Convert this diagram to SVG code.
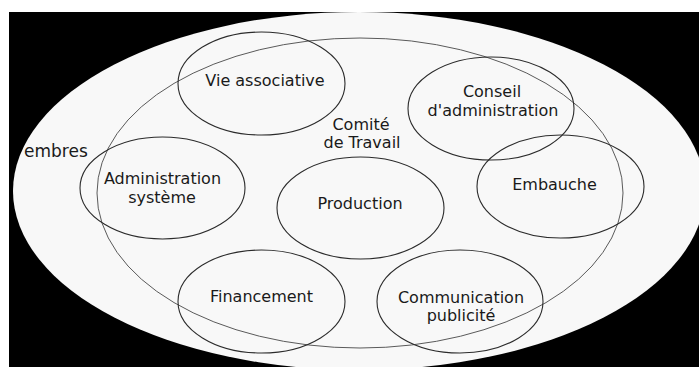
<svg xmlns="http://www.w3.org/2000/svg" width="699" height="367" viewBox="0 0 699 367">
  <style>
    .lbl { font-family: "DejaVu Sans", "Liberation Sans", sans-serif; font-size: 16px; fill: #1a1a1a; text-anchor: middle; }
    .set { fill: none; stroke: #2b2b2b; stroke-width: 1.1; }
    .inner { fill: none; stroke: #5a5a5a; stroke-width: 1; }
  </style>
  <defs>
    <clipPath id="frame"><rect x="9" y="12" width="690" height="355"/></clipPath>
  </defs>
  <rect x="0" y="0" width="699" height="367" fill="#ffffff"/>
  <rect x="9" y="12" width="690" height="355" fill="#000000"/>
  <g id="membres" clip-path="url(#frame)">
    <ellipse cx="359" cy="191" rx="346" ry="179" fill="#f8f8f8"/>
    <text x="24" y="157" font-family="DejaVu Sans, Liberation Sans, sans-serif" font-size="17" fill="#1a1a1a">embres</text>
  </g>
  <g id="comite">
    <ellipse class="inner" cx="360" cy="193" rx="263" ry="155"/>
    <text class="lbl" x="361" y="130">Comité</text>
    <text class="lbl" x="362" y="148">de Travail</text>
  </g>
  <g id="vie-associative">
    <ellipse class="set" cx="261.5" cy="83.5" rx="83.5" ry="51.5"/>
    <text class="lbl" x="265" y="86">Vie associative</text>
  </g>
  <g id="conseil">
    <ellipse class="set" cx="491" cy="108.5" rx="83" ry="51.5"/>
    <text class="lbl" x="492" y="97">Conseil</text>
    <text class="lbl" x="493" y="116">d'administration</text>
  </g>
  <g id="embauche">
    <ellipse class="set" cx="560.5" cy="186.5" rx="83.5" ry="51.5"/>
    <text class="lbl" x="554.5" y="190">Embauche</text>
  </g>
  <g id="admin-systeme">
    <ellipse class="set" cx="162.5" cy="188" rx="82.5" ry="51"/>
    <text class="lbl" x="162.5" y="184">Administration</text>
    <text class="lbl" x="162" y="203">système</text>
  </g>
  <g id="production">
    <ellipse class="set" cx="360.5" cy="208" rx="83.5" ry="51"/>
    <text class="lbl" x="360" y="209">Production</text>
  </g>
  <g id="financement">
    <ellipse class="set" cx="261.5" cy="301.5" rx="83.5" ry="51.5"/>
    <text class="lbl" x="261.5" y="302">Financement</text>
  </g>
  <g id="communication">
    <ellipse class="set" cx="460" cy="301.5" rx="83" ry="51.5"/>
    <text class="lbl" x="461" y="303">Communication</text>
    <text class="lbl" x="461" y="321">publicité</text>
  </g>
</svg>
